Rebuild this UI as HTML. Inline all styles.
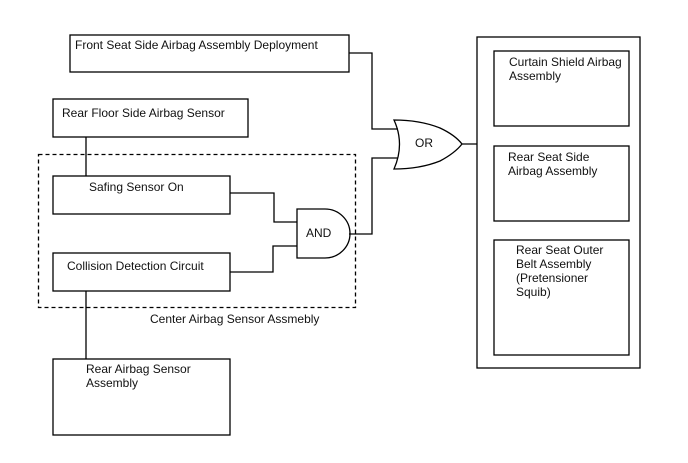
<!DOCTYPE html>
<html><head><style>body{margin:0;background:#fff}svg{display:block}text{font-family:"Liberation Sans",Arial,sans-serif;font-size:12px;fill:#111}</style></head><body>
<svg width="688" height="463" viewBox="0 0 688 463" xmlns="http://www.w3.org/2000/svg">
<g fill="none" stroke="#000" stroke-width="1.3">
<rect x="70" y="35" width="279" height="37"/>
<rect x="53" y="99" width="195" height="38"/>
<rect x="38.5" y="154.5" width="317" height="153" stroke-dasharray="4,3"/>
<rect x="53" y="176" width="177" height="38"/>
<rect x="53" y="253" width="177" height="38"/>
<rect x="53" y="359" width="177" height="76"/>
<rect x="477" y="37" width="163" height="331"/>
<rect x="494" y="51" width="135" height="75"/>
<rect x="494" y="146" width="135" height="75"/>
<rect x="494" y="240" width="135" height="115"/>
<path d="M86 137V176M86 291V359"/>
<path d="M349 53H372V129H398M230 193H274V222H297M230 272H273V246H297M349 234H372V158H398M462 144H477"/>
<path d="M297 209H325A25 24.5 0 0 1 325 258H297Z"/>
<path d="M394 120Q420 120 440 128Q455 135 462 144Q455 153 440 161Q420 169 394 169Q405 144 394 120Z"/>
</g>
<text x="75" y="49">Front Seat Side Airbag Assembly Deployment</text>
<text x="62" y="117">Rear Floor Side Airbag Sensor</text>
<text x="89" y="191">Safing Sensor On</text>
<text x="67" y="270">Collision Detection Circuit</text>
<text x="150" y="323">Center Airbag Sensor Assmebly</text>
<text x="86" y="373">Rear Airbag Sensor</text>
<text x="86" y="387">Assembly</text>
<text x="306" y="237">AND</text>
<text x="415" y="147">OR</text>
<text x="509" y="66">Curtain Shield Airbag</text>
<text x="509" y="80">Assembly</text>
<text x="508" y="161">Rear Seat Side</text>
<text x="508" y="175">Airbag Assembly</text>
<text x="516" y="254">Rear Seat Outer</text>
<text x="516" y="268">Belt Assembly</text>
<text x="516" y="282">(Pretensioner</text>
<text x="516" y="296">Squib)</text>
</svg>
</body></html>
